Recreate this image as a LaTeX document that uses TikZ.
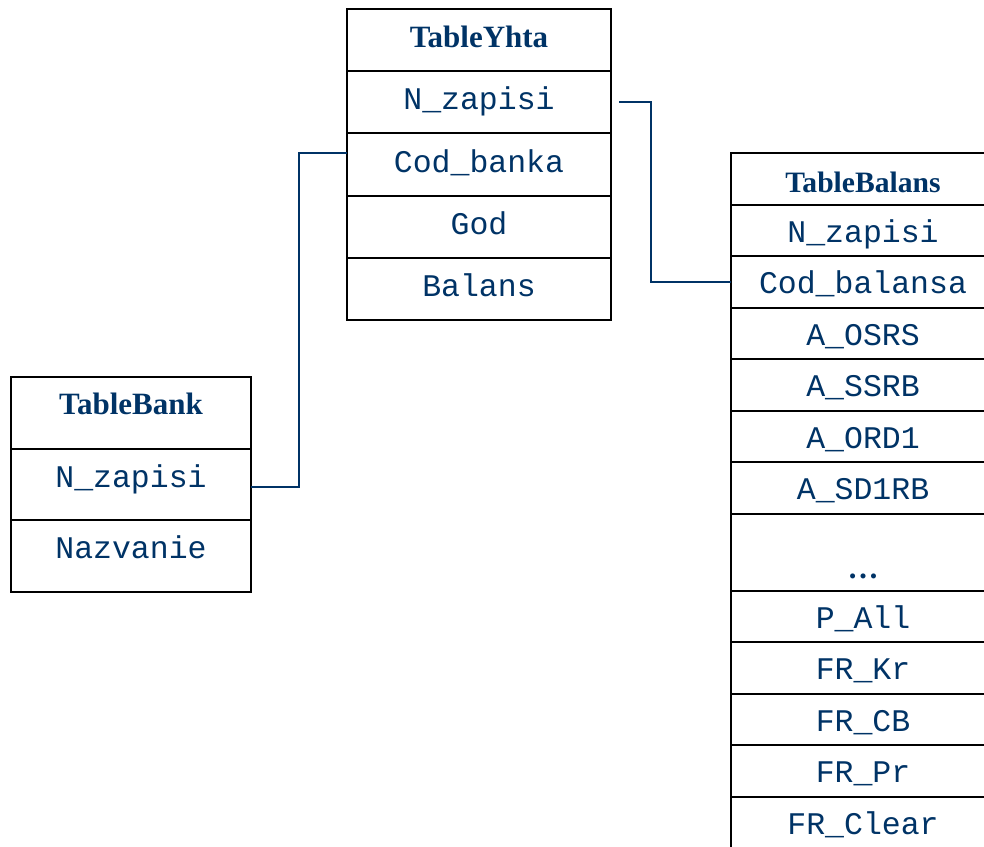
\documentclass[tikz,border=0pt]{standalone}
\usepackage{fontspec}
\setmainfont{Liberation Serif}
\setmonofont{Liberation Mono}
\usepackage{tikz}
\usetikzlibrary{positioning}
\usepackage{xcolor}
\definecolor{tabblue}{RGB}{0,51,102}

\begin{document}
\begin{tikzpicture}[x=0.5pt,y=-0.5pt,node distance=0pt,outer sep=0pt,inner sep=0pt]
  \tikzstyle{title}=[draw,line width=1pt,text=tabblue,font=\fontsize{15.5}{18}\selectfont\bfseries,text height=10pt,text depth=3pt]
  \tikzstyle{field}=[draw,line width=1pt,text=tabblue,font=\fontsize{15.75}{18}\selectfont\ttfamily,text height=9pt,text depth=1.5pt]
  \tikzstyle{yrow}=[minimum width=132pt,minimum height=31.1pt]
  \tikzstyle{brow}=[minimum width=132pt,minimum height=25.75pt,text height=12pt,text depth=0pt]
  \tikzstyle{krow}=[minimum width=120pt,minimum height=35.8pt,text height=5pt,text depth=2.2pt]
  \tikzstyle{link}=[draw=tabblue,line width=1pt]

  \useasboundingbox (0,0) rectangle (984,846);

  % TableYhta
  \node[title,yrow,anchor=north west] (yhta) at (347,9) {TableYhta};
  \node[field,yrow] (yhta_nz)  [below=of yhta]     {N\_zapisi};
  \node[field,yrow] (yhta_cod) [below=of yhta_nz]  {Cod\_banka};
  \node[field,yrow] (yhta_god) [below=of yhta_cod] {God};
  \node[field,yrow] (yhta_bal) [below=of yhta_god] {Balans};

  % TableBalans
  \node[title,brow,anchor=north west,text height=14pt,font=\fontsize{14.8}{18}\selectfont\bfseries] (bal) at (731,153) {TableBalans};
  \node[field,brow] (bal_nz)   [below=of bal]      {N\_zapisi};
  \node[field,brow] (bal_cod)  [below=of bal_nz]   {Cod\_balansa};
  \node[field,brow] (bal_osrs) [below=of bal_cod]  {A\_OSRS};
  \node[field,brow] (bal_ssrb) [below=of bal_osrs] {A\_SSRB};
  \node[field,brow] (bal_ord)  [below=of bal_ssrb] {A\_ORD1};
  \node[field,brow] (bal_sd)   [below=of bal_ord]  {A\_SD1RB};
  \node[title,brow,text height=32.5pt,text depth=6pt] (bal_dots) [below=of bal_sd] {…};
  \node[field,brow] (bal_all)  [below=of bal_dots] {P\_All};
  \node[field,brow] (bal_kr)   [below=of bal_all]  {FR\_Kr};
  \node[field,brow] (bal_cb)   [below=of bal_kr]   {FR\_CB};
  \node[field,brow] (bal_pr)   [below=of bal_cb]   {FR\_Pr};
  \node[field,brow] (bal_cl)   [below=of bal_pr]   {FR\_Clear};

  % TableBank
  \node[title,krow,anchor=north west,text height=5pt,text depth=3.8pt] (bank) at (11,377) {TableBank};
  \node[field,krow] (bank_nz)  [below=of bank]    {N\_zapisi};
  \node[field,krow] (bank_naz) [below=of bank_nz] {Nazvanie};

  % links
  \path[link] ([yshift=-1.5pt]bank_nz.east) -- ++(24pt,0) |- ([yshift=6pt]yhta_cod.west);
  \path[link] ([xshift=4pt]yhta_nz.east) -- ++(16pt,0) |- (bal_cod.west);
\end{tikzpicture}
\end{document}
